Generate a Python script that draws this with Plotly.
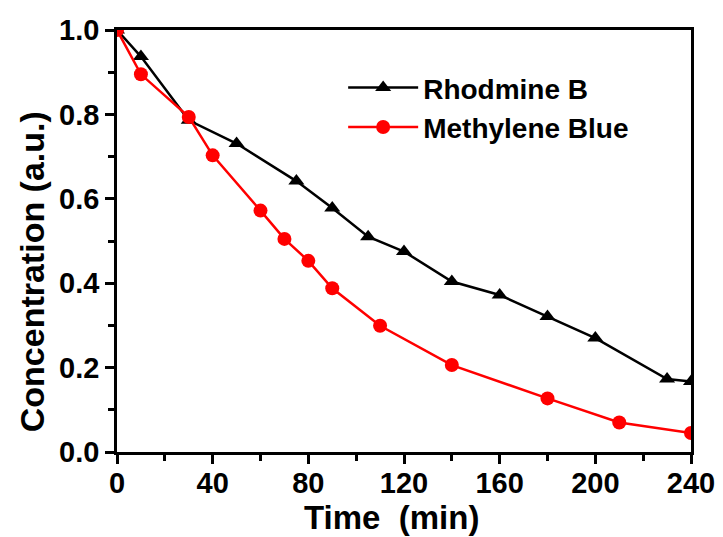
import plotly.graph_objects as go

time_rb = [0, 10, 30, 50, 75, 90, 105, 120, 140, 160, 180, 200, 230, 240]
conc_rb = [1.0, 0.937, 0.786, 0.731, 0.642, 0.578, 0.510, 0.475, 0.404, 0.372, 0.321, 0.270, 0.173, 0.167]

time_mb = [0, 10, 30, 40, 60, 70, 80, 90, 110, 140, 180, 210, 240]
conc_mb = [1.0, 0.895, 0.794, 0.703, 0.572, 0.505, 0.453, 0.388, 0.299, 0.206, 0.127, 0.070, 0.045]

x_ticks = [0, 40, 80, 120, 160, 200, 240]
y_ticks = [0.0, 0.2, 0.4, 0.6, 0.8, 1.0]

x_title = "Time\u00a0 (min)"
y_title = "Concentration (a.u.)"

FONT = "Liberation Sans, Arial, sans-serif"

fig = go.Figure()
fig.add_trace(go.Scatter(
    x=time_rb, y=conc_rb, mode="lines+markers", name="Rhodmine B",
    line=dict(color="black", width=2.5),
    marker=dict(symbol="triangle-up", size=14, color="black"),
))
fig.add_trace(go.Scatter(
    x=time_mb, y=conc_mb, mode="lines+markers", name="Methylene Blue",
    line=dict(color="#ff0000", width=2.5),
    marker=dict(symbol="circle", size=14, color="#ff0000"),
))

axis_common = dict(
    showgrid=False, zeroline=False, showline=True, linecolor="black", linewidth=2.5,
    mirror=True, ticks="outside", ticklen=9, tickwidth=2.5, tickcolor="black",
    tickfont=dict(family=FONT, size=29, color="black", weight="bold"),
    automargin=False,
)

fig.update_xaxes(
    range=[0, 240], tickvals=x_ticks, ticktext=[str(v) for v in x_ticks],
    ticklabelstandoff=-6,
    minor=dict(ticks="outside", dtick=20, ticklen=6, tickwidth=2.5, tickcolor="black"),
    **axis_common,
)
fig.update_yaxes(
    range=[0, 1.0], tickvals=y_ticks, ticktext=[f"{v:.1f}" for v in y_ticks],
    minor=dict(ticks="outside", dtick=0.1, ticklen=6, tickwidth=2.5, tickcolor="black"),
    **axis_common,
)

fig.add_annotation(
    text=x_title, xref="paper", yref="paper", x=0.479, y=-0.155,
    xanchor="center", yanchor="middle", showarrow=False,
    font=dict(family=FONT, size=33, color="black", weight="bold"),
)
fig.add_annotation(
    text=y_title, xref="paper", yref="paper", x=-0.148, y=0.426,
    xanchor="center", yanchor="middle", showarrow=False, textangle=-90,
    font=dict(family=FONT, size=34, color="black", weight="bold"),
)

fig.update_layout(
    width=723, height=537,
    margin=dict(l=117, r=32, t=30, b=85),
    plot_bgcolor="white", paper_bgcolor="white",
    legend=dict(
        x=0.394, y=0.922, xanchor="left", yanchor="top",
        font=dict(family=FONT, size=28, color="black", weight="bold"),
        bgcolor="rgba(0,0,0,0)", itemwidth=70, tracegroupgap=0,
    ),
)

fig.write_html("out.html")
